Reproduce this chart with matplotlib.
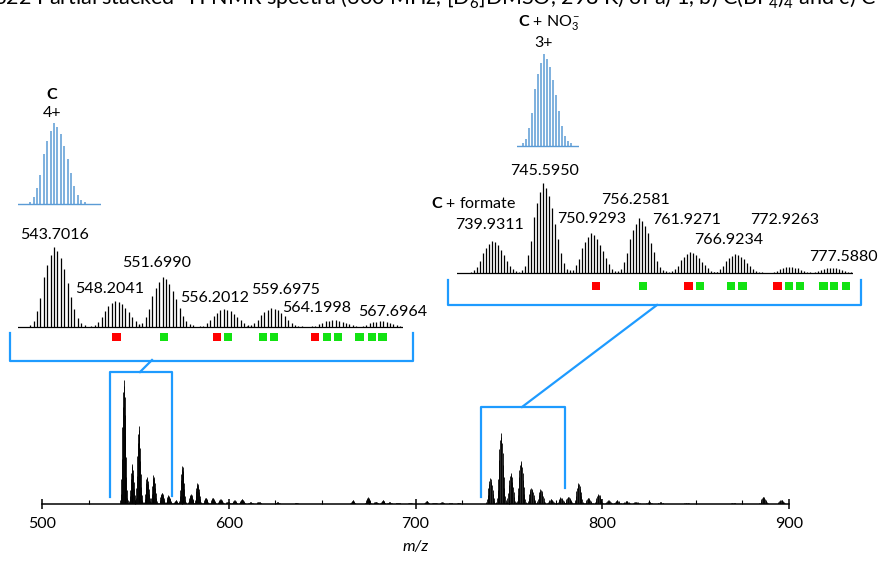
import numpy as np
import matplotlib
matplotlib.use('Agg')
import matplotlib.pyplot as plt
from matplotlib.lines import Line2D

plt.rcParams['font.family'] = ['Lato', 'DejaVu Sans']
plt.rcParams['mathtext.fontset'] = 'custom'
plt.rcParams['mathtext.rm'] = 'Lato'
plt.rcParams['mathtext.bf'] = 'Lato:bold'
plt.rcParams['mathtext.it'] = 'Lato:italic'

# relative isotope heights of one cluster (read from the blue simulated patterns)
iso_profile = [0.03, 0.08, 0.2, 0.36, 0.62, 0.78, 0.9, 1.0, 0.95, 0.86, 0.72, 0.55, 0.38, 0.22, 0.11, 0.05, 0.03]
iso_top = 7

# full spectrum: cluster centre (m/z), relative height, charge
full_mz = [543.7, 548.2, 551.7, 556.2, 559.7, 564.2, 567.7, 571.5, 575.0, 579.6, 583.2, 587.6, 591.4,
           595.5, 599.5, 603.0, 607.0, 611.5, 616.0, 626.0, 636.0, 666.3, 674.4, 678.6, 682.4, 686.0,
           690.5, 697.0, 705.9, 710.0, 714.0, 718.7, 723.0, 739.9, 745.6, 750.9, 756.3, 761.9, 766.9,
           772.3, 777.6, 781.8, 787.2, 792.5, 797.9, 803.2, 807.8, 812.8, 818.0, 825.0, 831.0, 845.0,
           870.0, 886.2, 895.7]
full_int = [1.0, 0.32, 0.63, 0.22, 0.23, 0.09, 0.07, 0.03, 0.31, 0.08, 0.17, 0.05, 0.05,
            0.04, 0.02, 0.03, 0.04, 0.015, 0.02, 0.015, 0.01, 0.03, 0.055, 0.02, 0.03, 0.015,
            0.012, 0.01, 0.025, 0.012, 0.015, 0.01, 0.008, 0.21, 0.57, 0.25, 0.35, 0.13, 0.12,
            0.04, 0.055, 0.06, 0.17, 0.05, 0.08, 0.03, 0.03, 0.025, 0.02, 0.015, 0.015, 0.01,
            0.01, 0.06, 0.035]
full_z = [4] * 33 + [3] * 22

# zoom of the 4+ region
zoom1_mz = [543.7016, 548.2041, 551.6990, 556.2012, 559.6975, 564.1998, 567.6964]
zoom1_int = [1.0, 0.33, 0.63, 0.23, 0.24, 0.09, 0.075]
zoom1_labels = ['543.7016', '548.2041', '551.6990', '556.2012', '559.6975', '564.1998', '567.6964']
zoom1_mark_mz = [548.3, 551.8, 555.7, 556.5, 559.1, 559.9, 562.9, 563.8, 564.6, 566.2, 567.1, 567.9]
zoom1_mark_kind = ['r', 'g', 'r', 'g', 'g', 'g', 'r', 'g', 'g', 'g', 'g', 'g']

# zoom of the 3+ region
zoom2_mz = [739.9311, 745.5950, 750.9293, 756.2581, 761.9271, 766.9234, 772.9263, 777.5880]
zoom2_int = [0.36, 1.0, 0.44, 0.61, 0.23, 0.21, 0.07, 0.06]
zoom2_labels = ['739.9311', '745.5950', '750.9293', '756.2581', '761.9271', '766.9234', '772.9263', '777.5880']
zoom2_mark_mz = [751.5, 756.7, 761.8, 763.1, 766.5, 767.8, 771.7, 773.0, 774.2, 776.8, 778.0, 779.3]
zoom2_mark_kind = ['r', 'g', 'r', 'g', 'g', 'g', 'r', 'g', 'g', 'g', 'g', 'g']

W, H = 880, 561
blue = '#1e9bff'
simblue = '#5b9bd5'
mark_colors = {'r': '#ff0000', 'g': '#12e212'}

fig = plt.figure(figsize=(8.8, 5.61), dpi=100)


def px_axes(x0, y0, x1, y1):
    ax = fig.add_axes([x0 / W, 1 - y1 / H, (x1 - x0) / W, (y1 - y0) / H])
    ax.axis('off')
    return ax


def px_text(x, y, s, **kw):
    fig.text(x / W, 1 - y / H, s, ha='center', va='center', **kw)


def px_line(xs, ys, **kw):
    fig.add_artist(Line2D(np.array(xs) / W, 1 - np.array(ys) / H, transform=fig.transFigure, **kw))


def sticks(ax, centres, heights, charges, **kw):
    xs, ys = [], []
    for c, h, z in zip(centres, heights, charges):
        for k, p in enumerate(iso_profile):
            xs.append(c + (k - iso_top) / z)
            ys.append(h * p)
    ax.vlines(xs, 0, ys, **kw)


# caption line cut off at the top of the picture (as in the source page)
fig.text(-6 / W, 1 - 6 / H, r'S22 Partial stacked $^1$H NMR spectra (600 MHz, [D$_6$]DMSO, 298 K) of a) 1, '
         r'b) C(BF$_4$)$_4$ and c) C', fontsize=15.5, va='baseline', ha='left')

# full spectrum
ax = fig.add_axes([42 / W, 1 - 504 / H, (789 - 42) / W, (504 - 355) / H])
sticks(ax, full_mz, full_int, full_z, color='black', lw=0.6)
ax.set_xlim(500, 900)
ax.set_ylim(0, 1.2)
for s in ['left', 'right', 'top']:
    ax.spines[s].set_visible(False)
ax.spines['bottom'].set_linewidth(1.1)
ax.set_yticks([])
ax.set_xticks([500, 600, 700, 800, 900])
ax.set_xticks(np.arange(525, 900, 25), minor=True)
ax.tick_params(axis='x', which='major', direction='inout', length=7, width=1.1, pad=6, labelsize=11.5)
ax.tick_params(axis='x', which='minor', direction='in', length=3, width=0.8)
ax.set_xlabel('m/z', fontstyle='italic', fontsize=11.5, labelpad=6)

# brackets marking the zoomed ranges
ax.plot([536.4, 536.4, 569.5, 569.5], [0.056, 1.065, 1.065, 0.065], color=blue, lw=1.6, clip_on=False)
ax.plot([735.3, 735.3, 780.2, 780.2], [0.056, 0.78, 0.78, 0.13], color=blue, lw=1.6, clip_on=False)
px_line([140, 152], [372, 360], color=blue, lw=1.6)
px_line([522, 657], [407, 305], color=blue, lw=1.6)
px_line([10, 10, 413, 413], [333, 361, 361, 333], color=blue, lw=1.6)
px_line([448, 448, 861, 861], [280, 305, 305, 280], color=blue, lw=1.6)

# zoom 1
ax1 = px_axes(18, 240, 403, 345)
ax1.axhline(0, color='black', lw=0.9)
sticks(ax1, zoom1_mz, zoom1_int, [4] * len(zoom1_mz), color='black', lw=0.9)
ax1.scatter(zoom1_mark_mz, [-0.125] * len(zoom1_mark_mz), marker='s', s=36,
            c=[mark_colors[k] for k in zoom1_mark_kind], linewidths=0)
ax1.set_xlim(541.05, 569.4)
ax1.set_ylim(-0.225, 1.0875)

lab1_pos = [(55, 235), (110, 289), (157, 263), (215, 298), (286, 290), (317, 308), (393, 312)]
for (x, y), s in zip(lab1_pos, zoom1_labels):
    px_text(x, y, s, fontsize=11.5)

# simulated 4+ pattern
sim1 = px_axes(18, 118, 101, 206)
sim1.axhline(0, color=simblue, lw=1.0)
sticks(sim1, [543.7016], [1.0], [4], color=simblue, lw=1.1)
sim1.set_xlim(541.05, 547.15)
sim1.set_ylim(-0.025, 1.062)
px_text(52, 95, 'C', fontsize=11.5, fontweight='bold')
px_text(52, 113, '4+', fontsize=11.5)

# zoom 2
ax2 = px_axes(457, 175, 853, 295)
ax2.axhline(0, color='black', lw=0.9)
sticks(ax2, zoom2_mz, zoom2_int, [3] * len(zoom2_mz), color='black', lw=0.9)
ax2.scatter(zoom2_mark_mz, [-0.144] * len(zoom2_mark_mz), marker='s', s=36,
            c=[mark_colors[k] for k in zoom2_mark_kind], linewidths=0)
ax2.set_xlim(736.03, 780.1)
ax2.set_ylim(-0.244, 1.089)

lab2_pos = [(489, 225), (545, 171), (592, 219), (635, 200), (687, 220), (729, 240), (785, 220), (843, 257)]
for (x, y), s in zip(lab2_pos, zoom2_labels):
    px_text(x, y, s, fontsize=11.5)
px_text(474, 204, r'$\mathbf{C}$ + formate', fontsize=11.5)

# simulated 3+ pattern
sim2 = px_axes(517, 50, 579, 148)
sim2.axhline(0, color=simblue, lw=1.0)
sticks(sim2, [745.5950], [1.0], [3], color=simblue, lw=1.1)
sim2.set_xlim(742.59, 749.5)
sim2.set_ylim(-0.022, 1.043)
px_text(549, 23, r'$\mathbf{C}$ + NO$_3^-$', fontsize=11.5)
px_text(543, 43, '3+', fontsize=11.5)

fig.savefig('out.png', dpi=100)
